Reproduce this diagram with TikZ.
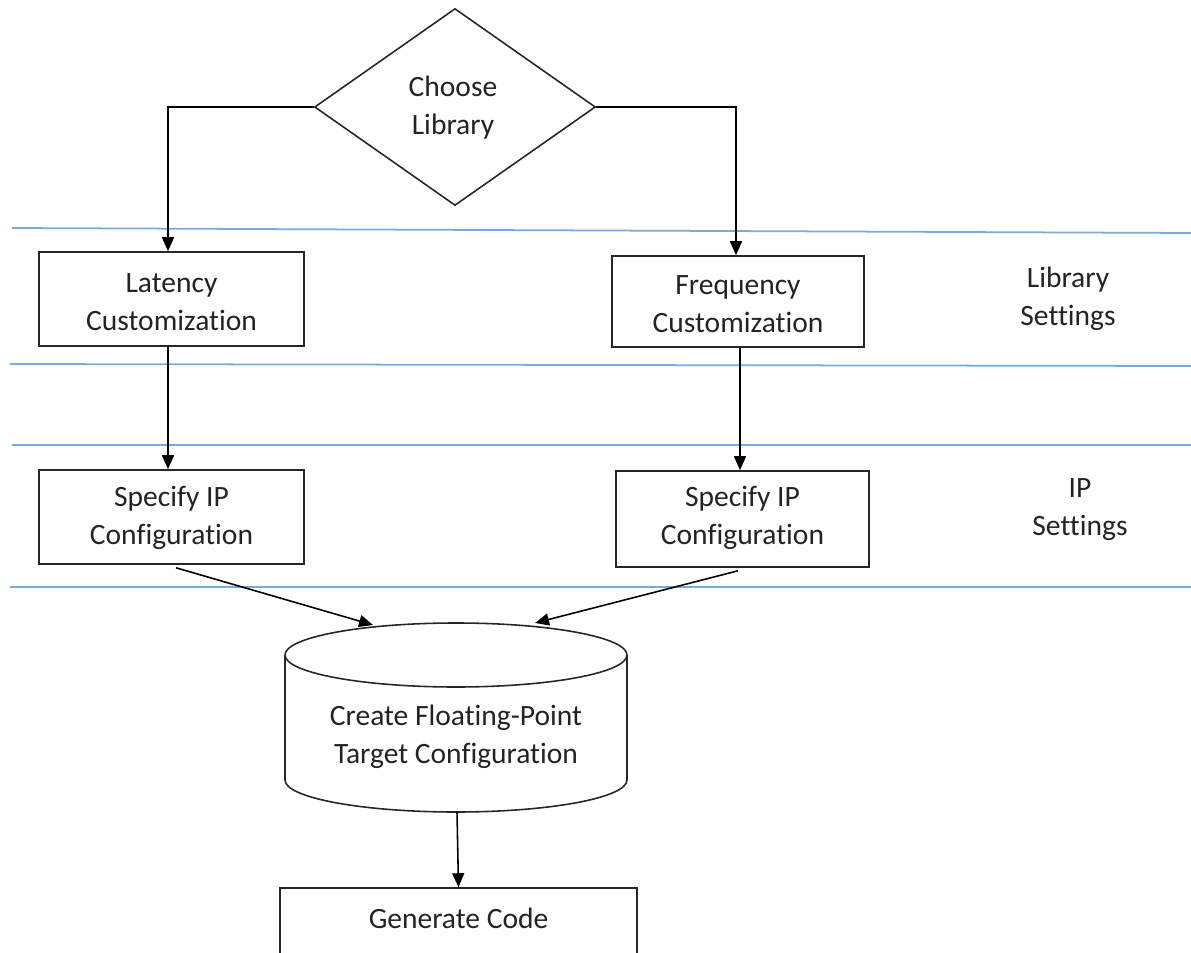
\documentclass[tikz,border=0pt]{standalone}
\usepackage{fontspec}
\setmainfont{Carlito}[Ligatures={NoCommon,NoRequired,NoContextual}]
\usetikzlibrary{shapes.geometric,arrows.meta}
\definecolor{bandblue}{RGB}{120,170,222}
\definecolor{txt}{RGB}{35,35,35}
\begin{document}
\begin{tikzpicture}[x=0.02cm,y=0.02cm,
  every node/.style={font=\fontsize{16.8}{21.6}\selectfont, text=txt, align=center, inner sep=0pt},
  stepbox/.style={draw=black!85, line width=0.9pt},
  arr/.style={draw=black, line width=0.9pt, -{Triangle[length=0.28cm,width=0.24cm]}},
  band/.style={draw=bandblue, line width=1pt}]
\useasboundingbox (0,0) rectangle (1191,-953);
% lanes
\draw[band] (12,-228) -- (1191,-233);
\draw[band] (10,-364) -- (1191,-366);
\draw[band] (12,-445) -- (1191,-445);
\draw[band] (10,-587) -- (1191,-587);
% decision
\node[diamond, stepbox, minimum width=5.62cm, minimum height=3.94cm] (dia) at (455,-107) {};
\node (diatext) at (453,-108) {Choose\\Library};
% boxes
\node[stepbox, minimum width=5.3cm, minimum height=1.88cm] (lat) at (171.5,-299) {};
\node (lattext) at (171.5,-302) {Latency\\Customization};
\node[stepbox, minimum width=5.04cm, minimum height=1.82cm] (freq) at (738,-301.5) {};
\node (freqtext) at (738,-304) {Frequency\\Customization};
\node[stepbox, minimum width=5.3cm, minimum height=1.88cm] (ipl) at (171.5,-517) {};
\node (ipltext) at (171.5,-518) {Specify IP\\Configuration};
\node[stepbox, minimum width=5.06cm, minimum height=1.92cm] (ipr) at (742.5,-519) {};
\node (iprtext) at (742.5,-518) {Specify IP\\Configuration};
% side labels
\node (libset) at (1068,-299) {Library\\Settings};
\node (ipset) at (1080,-510) {IP\\Settings};
% cylinder
\draw[stepbox] (285,-655) -- (285,-780) arc[start angle=180,end angle=360,x radius=171,y radius=32] -- (627,-655);
\draw[stepbox] (456,-655) ellipse [x radius=171, y radius=32];
\node (cyl) at (456,-737) {Create Floating-Point\\Target Configuration};
\coordinate (cylL) at (373,-625);
\coordinate (cylR) at (535,-623);
\coordinate (cylB) at (457,-812);
% generate code (cut at bottom)
\node[stepbox, minimum width=7.14cm, minimum height=2.8cm] (gen) at (458.5,-958) {};
\node (gentext) at (458.5,-918) {Generate Code};
% connectors
\draw[arr] (dia.west) -| ([xshift=-0.07cm]lat.north);
\draw[arr] (dia.east) -| ([xshift=-0.04cm]freq.north);
\draw[arr] ([xshift=-0.07cm]lat.south) -- ([xshift=-0.07cm]ipl.north);
\draw[arr] ([xshift=0.04cm]freq.south) -- ([xshift=-0.05cm]ipr.north);
\draw[arr] ([xshift=0.09cm,yshift=-0.06cm]ipl.south) -- (cylL);
\draw[arr] ([xshift=-0.09cm,yshift=-0.06cm]ipr.south) -- (cylR);
\draw[arr] (cylB) -- (gen.north);
\end{tikzpicture}
\end{document}
